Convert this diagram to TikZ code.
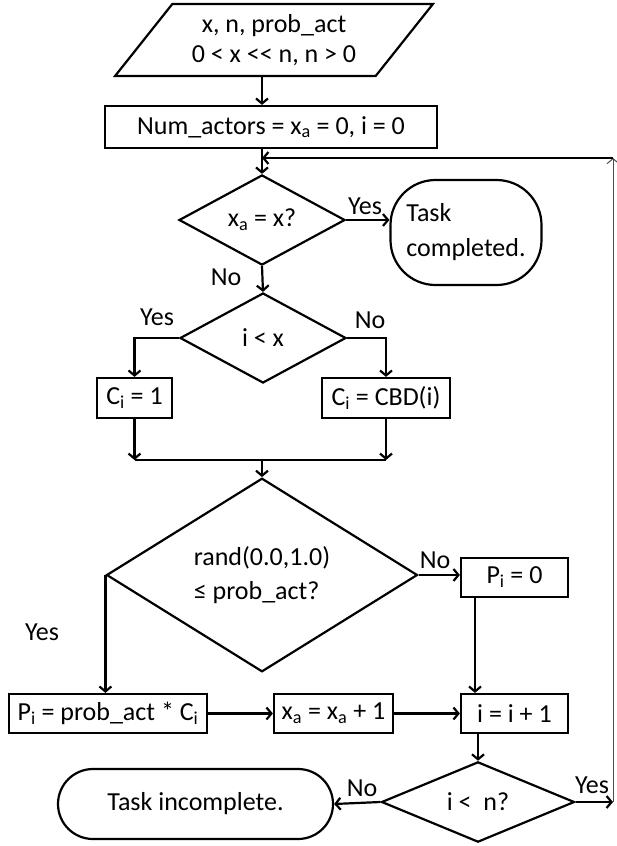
\documentclass[tikz,border=0pt]{standalone}
\usepackage{fontspec}
\setmainfont{Carlito}
\usetikzlibrary{calc,arrows.meta,shapes.geometric,positioning}

\begin{document}
\begin{tikzpicture}[x=1pt,y=-1pt,font=\fontsize{26}{30}\selectfont,line width=2.2pt,>={Straight Barb[length=5pt,width=12pt]}]

\tikzset{stepbox/.style={draw,inner sep=0pt,minimum height=39pt},
decision/.style={draw,shape=diamond,inner sep=0pt},
terminal/.style={draw,inner sep=0pt},
flow/.style={->},
loopline/.style={->,line width=1pt,black!70}}

\useasboundingbox (0,0) rectangle (616,846);

% Input and start
\node[draw,trapezium,trapezium left angle=48,trapezium right angle=132,trapezium stretches=true,minimum width=318pt,minimum height=72pt,inner sep=0pt,align=center] (inp) at (274,40) {x, n, prob\_act\\0 < x <\kern0pt< n, n > 0};
\node[stepbox,minimum width=332pt,minimum height=42pt] (num) at (271,127) {Num\_actors = x\textsubscript{a} = 0, i = 0};

% Decisions
\node[decision,minimum width=166pt,minimum height=90pt] (d1) at (262,220) {x\textsubscript{a} = x?};
\node[decision,minimum width=166pt,minimum height=90pt] (d2) at (263,338) {i < x};
\node[decision,minimum width=311pt,minimum height=149pt,align=left] (d3) at (262,575) {rand(0.0,1.0)\\[4pt]≤ prob\_act?};
\node[decision,minimum width=193pt,minimum height=80pt] (d4) at (478,802) {i <\ \ n?};

% Ends
\node[terminal,rounded corners=45pt,minimum width=151pt,minimum height=105pt,align=left] (done) at (466,232.5) {Task\\[5pt]completed.};
\node[terminal,rounded corners=35pt,minimum width=275pt,minimum height=70pt] (fail) at (195.5,804) {Task incomplete.};

% Process boxes
\node[stepbox,minimum width=75pt,minimum height=40pt] (c1) at (134.5,398) {C\textsubscript{i} = 1};
\node[stepbox,minimum width=128pt,minimum height=40pt] (cbd) at (386,398) {C\textsubscript{i} = CBD(i)};
\node[stepbox,minimum width=107pt] (p0) at (514.5,577.5) {P\textsubscript{i} = 0};
\node[stepbox,minimum width=198pt] (pp) at (108,713.5) {P\textsubscript{i} = prob\_act * C\textsubscript{i}};
\node[stepbox,minimum width=119pt] (xa) at (333.5,713.5) {x\textsubscript{a} = x\textsubscript{a} + 1};
\node[stepbox,minimum width=107pt] (inc) at (514.5,713.5) {i = i + 1};

% Merge and loop points
\coordinate (mL) at (c1.south |- 0,460);
\coordinate (mR) at (cbd.south |- 0,460);
\coordinate (mM) at (d3.north |- 0,460);
\coordinate (loopB) at (613,802);
\coordinate (loopT) at (613,158);
\coordinate (loopL) at (d1.north |- 0,158);

% Connectors
\draw[flow] (inp.south -| d1.north) -- (num.north -| d1.north);
\draw[flow] (num.south -| d1.north) -- (d1.north);
\draw[flow] (d1.east) -- (done.west |- d1.east);
\draw[flow] (d1.south) -- (d2.north);
\draw[flow] (d2.west) -| (c1.north);
\draw[flow] (d2.east) -| (cbd.north);
\draw[flow] (c1) -- (mL);
\draw[flow] (cbd) -- (mR);
\draw (mL) -- (mR);
\draw[flow] (mM) -- (d3.north);
\draw[flow] (d3.east) -- (p0.west |- d3.east);
\draw[flow] (d3.west) -- (d3.west |- pp.north);
\draw[flow] (pp.east) -- (xa.west);
\draw[flow] (xa.east) -- (inc.west);
\draw[flow] (p0.south -| d4.north) ++(-3,0) -- ($(inc.north -| d4.north)+(-3,0)$);
\draw[flow] (inc.south -| d4.north) -- (d4.north);
\draw[flow] (d4.west) -- (fail.east);
\draw[flow] (d4.east) -- (loopB);
\draw[loopline] (loopB) -- (loopT);
\draw[flow] (loopT) -- (loopL);

% Yes / No labels
\node (yes1) at (365,206) {Yes};
\node (no1) at (226,277) {No};
\node (yes2) at (157,317) {Yes};
\node (no2) at (370,320) {No};
\node (no3) at (435,560) {No};
\node (yes3) at (42,632) {Yes};
\node (no4) at (362,788) {No};
\node (yes4) at (592,785) {Yes};

\end{tikzpicture}
\end{document}
